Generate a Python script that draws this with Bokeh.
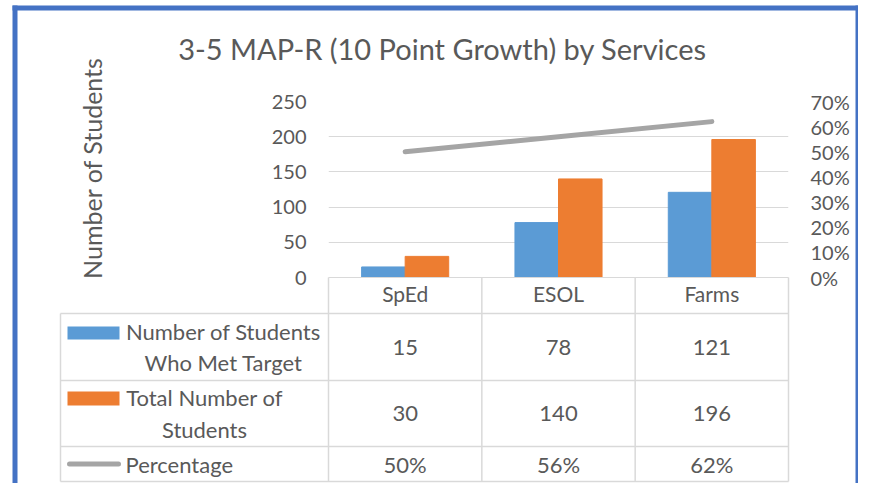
import math
from bokeh.plotting import figure
from bokeh.models import Range1d, LinearAxis, FixedTicker, NumeralTickFormatter
from bokeh.core.properties import value
from bokeh.embed import file_html
from bokeh.resources import INLINE

# ---------------- data ----------------
categories = ["SpEd", "ESOL", "Farms"]
met_target = [15, 78, 121]
total_students = [30, 140, 196]
percentage = [0.50, 0.56, 0.62]
series_labels = ["Number of Students\nWho Met Target", "Total Number of\nStudents", "Percentage"]
count_ticks = [0, 50, 100, 150, 200, 250]
pct_ticks = [0.0, 0.1, 0.2, 0.3, 0.4, 0.5, 0.6, 0.7]
title_text = "3-5 MAP-R (10 Point Growth) by Services"
y_title = "Number of Students"

# ---------------- style ----------------
FONT = "Lato"
TEXT = "#595959"
GRID = "#D9D9D9"
BLUE = "#5B9BD5"
ORANGE = "#ED7D31"
GREY = "#A5A5A5"
FRAME = "#4472C4"

W, H = 858, 483
FL, FR, FT, FB = 328, 788, 101, 277   # plot frame in figure pixels

x0, x1 = -0.5, len(categories) - 0.5
y0, y1 = count_ticks[0], count_ticks[-1]

p = figure(width=W, height=H, x_range=Range1d(x0, x1), y_range=Range1d(y0, y1),
           output_backend="svg", toolbar_location=None,
           min_border_left=FL, min_border_right=W - FR,
           min_border_top=FT, min_border_bottom=H - FB)
p.outline_line_color = None
p.background_fill_color = "white"
p.border_fill_color = "white"
p.extra_y_ranges = {"pct": Range1d(pct_ticks[0], pct_ticks[-1])}


def xd(px):
    return x0 + (px - FL) * (x1 - x0) / (FR - FL)


def yd(py):
    return y0 + (FB - py) * (y1 - y0) / (FB - FT)


idx = list(range(len(categories)))
bw = 0.284
p.vbar(x=[i - bw / 2 for i in idx], top=met_target, width=bw, color=BLUE)
p.vbar(x=[i + bw / 2 for i in idx], top=total_students, width=bw, color=ORANGE)
p.line(idx, percentage, y_range_name="pct", line_width=5, line_color=GREY, line_cap="round")

# ---------------- axes ----------------
p.xgrid.visible = False
p.ygrid.ticker = FixedTicker(ticks=count_ticks)
p.ygrid.grid_line_color = GRID

yax = p.yaxis[0]
yax.ticker = FixedTicker(ticks=count_ticks)
rax = LinearAxis(y_range_name="pct", ticker=FixedTicker(ticks=pct_ticks),
                 formatter=NumeralTickFormatter(format="0%"))
p.add_layout(rax, "right")
for ax in (yax, rax):
    ax.axis_line_color = None
    ax.major_tick_line_color = None
    ax.minor_tick_line_color = None
    ax.major_tick_out = 0
    ax.major_tick_in = 0
    ax.major_label_standoff = 22
    ax.major_label_text_font = FONT
    ax.major_label_text_font_size = "20px"
    ax.major_label_text_color = TEXT

xax = p.xaxis[0]
xax.ticker = FixedTicker(ticks=idx)
xax.major_label_overrides = {i: c for i, c in enumerate(categories)}
xax.axis_line_color = GRID
xax.axis_line_width = 1
xax.major_tick_line_color = None
xax.minor_tick_line_color = None
xax.major_tick_out = 0
xax.major_tick_in = 0
xax.major_label_standoff = 3
xax.major_label_text_font = FONT
xax.major_label_text_font_size = "21px"
xax.major_label_text_color = TEXT

# ---------------- data table ----------------
TABLE_LEFT = 60
col_w = (FR - FL) / len(categories)
col_edges = [FL + k * col_w for k in range(len(categories) + 1)]
row_edges = [313, 380, 446, 481]

hx0, hx1, hy0, hy1 = [], [], [], []
for r in row_edges:
    hx0.append(xd(TABLE_LEFT)); hx1.append(xd(FR)); hy0.append(yd(r)); hy1.append(yd(r))
hx0.append(xd(TABLE_LEFT)); hx1.append(xd(TABLE_LEFT)); hy0.append(yd(row_edges[0])); hy1.append(yd(row_edges[-1]))
for c in col_edges:
    hx0.append(xd(c)); hx1.append(xd(c)); hy0.append(yd(FB)); hy1.append(yd(row_edges[-1]))
p.segment(x0=hx0, y0=hy0, x1=hx1, y1=hy1, line_color=GRID, line_width=1.5, level="overlay")

row_mid = [(row_edges[k] + row_edges[k + 1]) / 2 for k in range(3)]

# legend keys
p.quad(left=[xd(67), xd(67)], right=[xd(119), xd(119)],
       top=[yd(row_mid[0] - 20.5), yd(row_mid[1] - 22)],
       bottom=[yd(row_mid[0] - 7.5), yd(row_mid[1] - 8)],
       fill_color=[BLUE, ORANGE], line_color=None, level="overlay")
p.segment(x0=[xd(69)], y0=[yd(row_mid[2])], x1=[xd(118)], y1=[yd(row_mid[2])],
          line_color=GREY, line_width=5, line_cap="round", level="overlay")

# legend texts
txt_style = dict(text_font=value(FONT), text_font_size=value("22px"), text_color=TEXT,
                 text_baseline="middle", level="overlay")
p.text(x=[xd(223), xd(204)], y=[yd(row_mid[0]), yd(row_mid[1])],
       text=series_labels[:2], text_align="center", text_line_height=1.15, **txt_style)
p.text(x=[xd(125)], y=[yd(row_mid[2])], text=series_labels[2:], text_align="left", **txt_style)

# cell values
vx, vy, vt = [], [], []
for i in idx:
    vx += [i, i, i]
    vy += [yd(row_mid[0]), yd(row_mid[1]), yd(row_mid[2])]
    vt += [str(met_target[i]), str(total_students[i]), f"{round(percentage[i] * 100)}%"]
p.text(x=vx, y=vy, text=vt, text_align="center", **txt_style)

# title and axis title
p.text(x=[xd(442)], y=[yd(48)], text=[title_text], text_align="center",
       text_baseline="middle", text_font=value(FONT), text_font_size=value("29px"),
       text_color=TEXT, level="overlay")
p.text(x=[xd(91)], y=[yd(167.5)], text=[y_title], angle=math.pi / 2,
       text_align="center", text_baseline="middle", text_font=value(FONT),
       text_font_size=value("25px"), text_color=TEXT, level="overlay")

# chart border
p.quad(left=[xd(12), xd(12), xd(855)], right=[xd(17), xd(871), xd(871)],
       top=[yd(5), yd(5), yd(5)], bottom=[yd(H + 5), yd(10), yd(H + 5)],
       fill_color=FRAME, line_color=None, level="overlay")

open("out.html", "w").write(file_html(p, INLINE))
